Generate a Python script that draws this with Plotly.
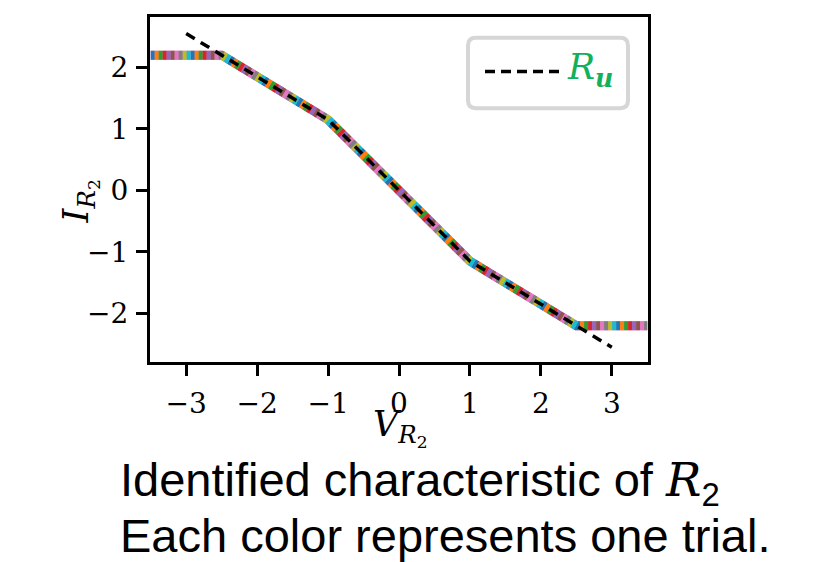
import plotly.graph_objects as go

# Data
v_knots = [-3.5, -2.5, -1.0, 1.0, 2.5, 3.5]
i_knots = [2.2, 2.2, 1.15, -1.15, -2.2, -2.2]
v_ru = [-3.0, -1.0, 1.0, 3.0]
i_ru = [2.55, 1.15, -1.15, -2.55]
trial_colors = ["#1f77b4", "#ff7f0e", "#2ca02c", "#d62728", "#9467bd",
                "#8c564b", "#e377c2", "#7f7f7f", "#bcbd22", "#17becf"]
x_ticks = [-3, -2, -1, 0, 1, 2, 3]
y_ticks = [-2, -1, 0, 1, 2]

OFF = 8  # page body margin
W, H = 830 - OFF, 562 - OFF
L, R, T, B = 150 - OFF, 648 - OFF, 14 - OFF, 362 - OFF


def px(x):
    return (x - OFF - L) / (R - L)


def py(y):
    return (B - (y - OFF)) / (B - T)


fig = go.Figure()
fig.add_trace(go.Scatter(x=v_knots, y=i_knots, mode="lines",
                         line=dict(color="#e377c2", width=9), showlegend=False,
                         hoverinfo="skip"))
seg = 4
n = len(trial_colors)
period = seg * n
for k, c in enumerate(trial_colors):
    off = seg * k
    dash = f"0px,{off}px,{seg}px,{period - off - seg}px" if off > 0 else f"{seg}px,{period - seg}px"
    fig.add_trace(go.Scatter(x=v_knots, y=i_knots, mode="lines",
                             line=dict(color=c, width=9, dash=dash),
                             showlegend=False, name=f"trial {k+1}"))
fig.add_trace(go.Scatter(x=v_ru, y=i_ru, mode="lines",
                         line=dict(color="black", width=3.5, dash="10px,7px"),
                         name="R_u", showlegend=False))

tickfont = dict(family="DejaVu Serif, Liberation Serif, serif", size=28, color="black")
axis_common = dict(ticks="outside", ticklen=11, tickwidth=2.5, tickcolor="black",
                   showline=True, linecolor="black", linewidth=3, mirror=True,
                   showgrid=False, zeroline=False, tickfont=tickfont)
fig.update_xaxes(range=[-3.51, 3.51], tickvals=x_ticks, ticklabelstandoff=3, **axis_common)
fig.update_yaxes(range=[-2.79, 2.82], tickvals=y_ticks, ticklabelstandoff=2, **axis_common)

# legend box (rounded)
x0, x1 = px(468), px(628)
y0, y1 = py(106), py(35)
rx, ry = 8 / (R - L), 8 / (B - T)
path = (f"M {x0+rx},{y0} L {x1-rx},{y0} Q {x1},{y0} {x1},{y0+ry} "
        f"L {x1},{y1-ry} Q {x1},{y1} {x1-rx},{y1} L {x0+rx},{y1} "
        f"Q {x0},{y1} {x0},{y1-ry} L {x0},{y0+ry} Q {x0},{y0} {x0+rx},{y0} Z")
shapes = [
    dict(type="path", xref="paper", yref="paper", path=path,
         line=dict(color="#d6d6d6", width=4), fillcolor="white", layer="above"),
    dict(type="line", xref="paper", yref="paper", x0=px(485), x1=px(562),
         y0=py(69), y1=py(69), line=dict(color="black", width=3.5, dash="10px,6px"),
         layer="above"),
]

serif = "DejaVu Serif, Liberation Serif, serif"
sans = "Liberation Sans, Arial, sans-serif"
annotations = [
    dict(x=px(565), y=py(67), xref="paper", yref="paper", xanchor="left", yanchor="middle",
         text="<i>R</i><sub><b><i>u</i></b></sub>", showarrow=False,
         font=dict(family=serif, size=36, color="#12b05a")),
    dict(x=px(400), y=py(429), xref="paper", yref="paper", xanchor="center", yanchor="middle",
         text="<i>V</i><sub><i>R</i><sub>2</sub></sub>", showarrow=False,
         font=dict(family=serif, size=35, color="black")),
    dict(x=px(80), y=py(200), xref="paper", yref="paper", xanchor="center", yanchor="middle",
         text="<i>I</i><sub><i>R</i><sub>2</sub></sub>", showarrow=False, textangle=-90,
         font=dict(family=serif, size=35, color="black")),
    dict(x=px(118), y=py(484), xref="paper", yref="paper", xanchor="left", yanchor="middle",
         text="Identified characteristic of <span style='font-family:DejaVu Serif'><i>R</i></span><sub>2</sub>",
         showarrow=False, font=dict(family=sans, size=47, color="black")),
    dict(x=px(118), y=py(537), xref="paper", yref="paper", xanchor="left", yanchor="middle",
         text="Each color represents one trial.", showarrow=False,
         font=dict(family=sans, size=47, color="black")),
]

fig.update_layout(width=W, height=H, margin=dict(l=L, r=W - R, t=T, b=H - B),
                  plot_bgcolor="white", paper_bgcolor="white",
                  shapes=shapes, annotations=annotations, showlegend=False)

fig.write_html("out.html")
